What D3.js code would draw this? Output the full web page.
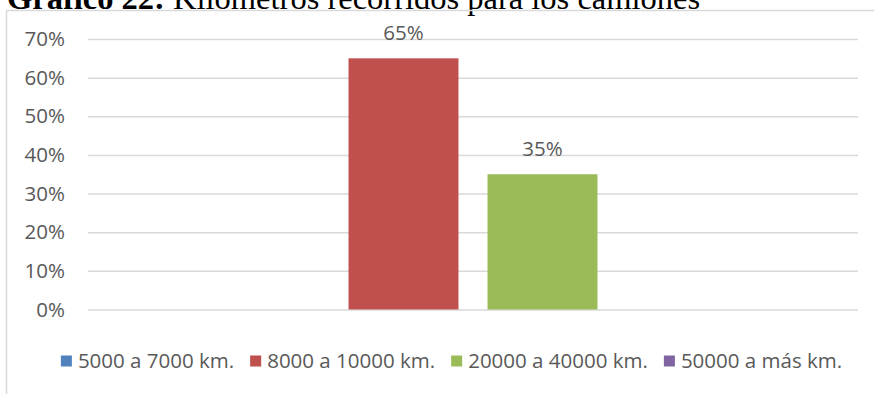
<!DOCTYPE html>
<html>
<head>
<meta charset="utf-8">
<script src="https://cdn.jsdelivr.net/npm/d3@7"></script>
<style>
  html, body { margin: 0; padding: 0; background: #fff; }
  svg { display: block; }
</style>
</head>
<body>
<svg id="chart" width="874" height="394"></svg>
<script>
// Kilómetros recorridos por los camiones (share of responses)
const categories = ["5000 a 7000 km.", "8000 a 10000 km.", "20000 a 40000 km.", "50000 a más km."];
const values = [0, 0.65, 0.35, 0];
const colors = ["#4f81bd", "#c0504d", "#9bbb59", "#8064a2"];
const yTicks = [0, 0.1, 0.2, 0.3, 0.4, 0.5, 0.6, 0.7];
const groups = ["Total"];

const svg = d3.select("#chart");
const W = 874, H = 394;
const uiFont = "'Open Sans', 'Liberation Sans', sans-serif";
const uiSize = "20.5px";
const textColor = "#595959";
const gridColor = "#d9d9d9";

// Title (sits partly above the visible area)
const title = svg.append("text")
  .attr("x", 7).attr("y", 9)
  .style("font-family", "'Liberation Serif', 'Times New Roman', serif")
  .style("font-size", "32.5px")
  .attr("fill", "#000");
title.append("tspan").style("font-weight", "bold").text("Gráfico 22:");
title.append("tspan").text(" Kilómetros recorridos para los camiones");

// Chart frame
svg.append("rect")
  .attr("x", 6.5).attr("y", 10.5)
  .attr("width", W + 20).attr("height", H + 20)
  .attr("fill", "none")
  .attr("stroke", gridColor)
  .attr("stroke-width", 1.5);

// Plot area
const plot = { left: 88, right: 858, top: 39, bottom: 309.5 };

const y = d3.scaleLinear().domain([0, 0.7]).range([plot.bottom, plot.top]);

const x0 = d3.scaleBand()
  .domain(groups)
  .range([plot.left, plot.right])
  .paddingInner(0)
  .paddingOuter(0.2306);

const x1 = d3.scaleBand()
  .domain(categories)
  .range([0, x0.bandwidth()])
  .paddingInner(0.209)
  .paddingOuter(0);

// Gridlines and tick labels through a left axis
const yAxis = d3.axisLeft(y)
  .tickValues(yTicks)
  .tickFormat(d3.format(".0%"))
  .tickSize(-(plot.right - plot.left))
  .tickPadding(23);

const axisG = svg.append("g")
  .attr("transform", `translate(${plot.left},0)`)
  .call(yAxis);
axisG.select(".domain").remove();
axisG.selectAll(".tick line")
  .attr("stroke", gridColor)
  .attr("stroke-width", 1.5);
axisG.selectAll(".tick text")
  .attr("fill", textColor)
  .style("font-family", uiFont)
  .style("font-size", uiSize);

// Bars
const data = categories.map((c, i) => ({ cat: c, value: values[i], color: colors[i] }));
const barG = svg.append("g")
  .attr("transform", `translate(${x0(groups[0])},0)`);

barG.selectAll("rect")
  .data(data)
  .join("rect")
  .attr("x", d => x1(d.cat))
  .attr("y", d => y(d.value))
  .attr("width", x1.bandwidth())
  .attr("height", d => y(0) - y(d.value))
  .attr("fill", d => d.color);

// Value labels above the non-empty bars
barG.selectAll("text.val")
  .data(data.filter(d => d.value > 0))
  .join("text")
  .attr("class", "val")
  .attr("x", d => x1(d.cat) + x1.bandwidth() / 2)
  .attr("y", d => y(d.value) - 18)
  .attr("text-anchor", "middle")
  .attr("fill", textColor)
  .style("font-family", uiFont)
  .style("font-size", uiSize)
  .text(d => d3.format(".0%")(d.value));

// Legend, centred under the plot
const legend = svg.append("g");
const sq = 11, gapText = 6, gapItem = 16, legendY = 361;
const items = legend.selectAll("g.item")
  .data(data)
  .join("g")
  .attr("class", "item");
items.append("rect")
  .attr("width", sq).attr("height", sq)
  .attr("y", legendY - sq / 2)
  .attr("fill", d => d.color);
items.append("text")
  .attr("x", sq + gapText)
  .attr("y", legendY)
  .attr("dy", "0.35em")
  .attr("fill", textColor)
  .style("font-family", uiFont)
  .style("font-size", uiSize)
  .text(d => d.cat);

const widths = [];
items.each(function () {
  widths.push(sq + gapText + this.querySelector("text").getComputedTextLength());
});
const total = d3.sum(widths) + gapItem * (widths.length - 1);
let start = 451.5 - total / 2;
items.attr("transform", (d, i) => {
  const x = start;
  start += widths[i] + gapItem;
  return `translate(${x},0)`;
});
</script>
</body>
</html>
